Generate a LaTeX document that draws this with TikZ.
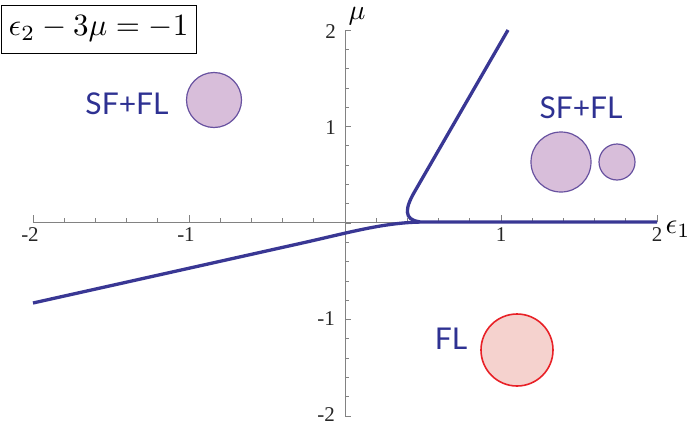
\documentclass[tikz,border=0pt]{standalone}
\usepackage{fontspec}
\usepackage{graphicx}
\newfontfamily\tickfont{Liberation Serif}
\newfontfamily\labfont{Lato}
\definecolor{curveblue}{RGB}{57,55,148}
\definecolor{labblue}{RGB}{46,49,146}
\definecolor{purfill}{RGB}{216,190,218}
\definecolor{puredge}{RGB}{104,82,160}
\definecolor{redfill}{RGB}{245,210,206}
\definecolor{rededge}{RGB}{232,33,39}
\definecolor{axgray}{RGB}{130,130,130}
\tikzset{
  axisline/.style={draw=axgray, line width=0.8pt},
  tickmark/.style={draw=axgray, line width=0.7pt},
  ticklab/.style={font=\tickfont\fontsize{21}{21}\selectfont, inner sep=0pt, text=black!85},
  phase/.style={font=\labfont\fontsize{30}{30}\selectfont, text=labblue, inner sep=0pt},
  purdisk/.style={circle, draw=puredge, fill=purfill, line width=1.2pt, inner sep=0pt},
  reddisk/.style={circle, draw=rededge, fill=redfill, line width=1.6pt, inner sep=0pt},
  curve/.style={draw=curveblue, line width=3.3pt}
}
\begin{document}
\begin{tikzpicture}[x=1pt,y=-1pt]
\useasboundingbox (0,0) rectangle (692,431);
% axes
\coordinate (xl) at (33,222);
\coordinate (xr) at (657,222);
\coordinate (yt) at (345,30);
\coordinate (yb) at (345,416);
\draw[axisline] (xl) -- (xr);
\draw[axisline] (yb) -- (yt);
% x ticks
\foreach \i in {0,...,20} {
  \pgfmathsetmacro\xx{33+\i*31.2}
  \draw[tickmark] (\xx,222) -- (\xx,218);
}
\foreach \i in {0,...,4} {
  \pgfmathsetmacro\xx{33+\i*156}
  \draw[tickmark] (\xx,222) -- (\xx,215);
}
% y ticks
\foreach \i in {0,...,20} {
  \pgfmathsetmacro\yy{30+\i*19.3}
  \draw[tickmark] (345,\yy) -- (349,\yy);
}
\foreach \i in {0,...,4} {
  \pgfmathsetmacro\yy{30+\i*96.5}
  \draw[tickmark] (345,\yy) -- (351,\yy);
}
% tick labels
\node[ticklab] (xm2) at (30,235) {-2};
\node[ticklab] (xm1) at (186,235) {-1};
\node[ticklab] (xp1) at (501,235) {1};
\node[ticklab] (xp2) at (657,235) {2};
\node[ticklab, anchor=east] (yp2) at (336,32) {2};
\node[ticklab, anchor=east] (yp1) at (336,128) {1};
\node[ticklab, anchor=east] (ym1) at (335,319) {-1};
\node[ticklab, anchor=east] (ym2) at (335,415) {-2};
% axis labels
\node[inner sep=0pt] (mulab) at (357,16) {\scalebox{2.8}{$\mu$}};
\node[inner sep=0pt] (eplab) at (678,229) {\scalebox{2.9}{$\epsilon_1$}};
% title box
\node[draw=black, line width=0.8pt, minimum width=195pt, minimum height=48pt, inner sep=0pt] (title) at (98.5,29) {\scalebox{3.1}{$\epsilon_2-3\mu=-1$}};
% curves
\draw[curve] (33,303) -- (300,243.5) .. controls (350,232.4) and (385,222) .. (425,222) -- (657,222);
\draw[curve] (420,221.8) .. controls (403,220) and (405,208) .. (415,191) -- (508,30);
% disks
\node[purdisk, minimum size=55pt] (d1) at (214,100) {};
\node[purdisk, minimum size=60pt] (d2) at (561,162) {};
\node[purdisk, minimum size=36pt] (d3) at (617,162) {};
\node[reddisk, minimum size=72pt] (d4) at (517,350) {};
% phase labels
\node[phase] (l1) at (127,104) {SF+FL};
\node[phase] (l2) at (581,108) {SF+FL};
\node[phase] (l3) at (451,339) {FL};
\end{tikzpicture}
\end{document}
